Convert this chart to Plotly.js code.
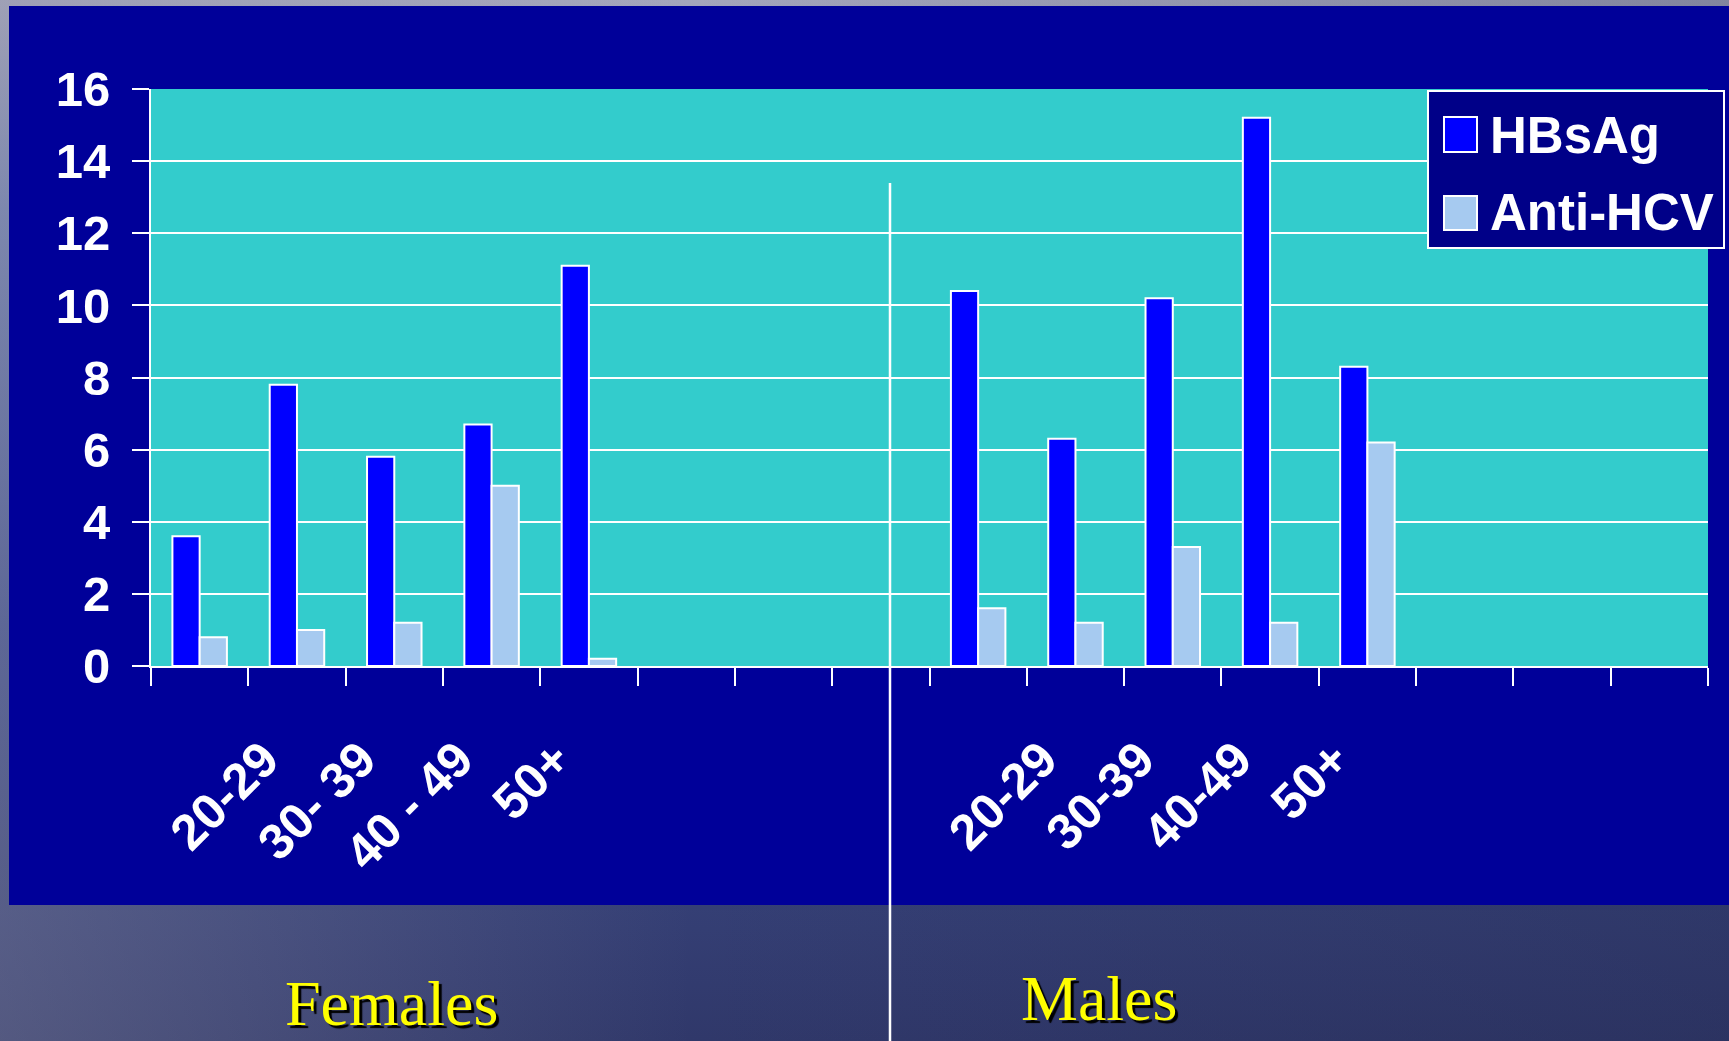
<!DOCTYPE html>
<html>
<head>
<meta charset="utf-8">
<script src="https://cdn.plot.ly/plotly-3.0.1.min.js"></script>
<style>
  html, body { margin: 0; padding: 0; width: 1729px; height: 1041px; overflow: hidden; }
  body {
    background:
      linear-gradient(to right, rgba(150,150,170,0.35) 0%, rgba(60,70,120,0.0) 40%, rgba(30,35,70,0.25) 100%),
      linear-gradient(to bottom, #a4a6bc 0%, #7080b0 20%, #3f4e8c 60%, #30386a 100%);
  }
  #chart { width: 1729px; height: 1041px; }
</style>
</head>
<body>
<div id="chart"></div>
<script>
// ---- data ----
const slotIds = ['F0','F1','F2','F3','F4','F5','F6','F7','M0','M1','M2','M3','M4','M5','M6','M7'];
const slotLabels = ['', '20-29', '30- 39', '40 - 49', '50+', '', '', '', '', '20-29', '30-39', '40-49', '50+', '', '', ''];
const femaleSlots = ['F0','F1','F2','F3','F4'];
const maleSlots = ['M0','M1','M2','M3','M4'];
const femalesHBsAg = [3.6, 7.8, 5.8, 6.7, 11.1];
const femalesAntiHCV = [0.8, 1.0, 1.2, 5.0, 0.2];
const malesHBsAg = [10.4, 6.3, 10.2, 15.2, 8.3];
const malesAntiHCV = [1.6, 1.2, 3.3, 1.2, 6.2];
const seriesNames = ['HBsAg', 'Anti-HCV'];
const groupNames = ['Females', 'Males'];
const yTicks = [0, 2, 4, 6, 8, 10, 12, 14, 16];

// ---- layout geometry (pixels) ----
const W = 1729, H = 1041;
const L = 151, R = 1708, T = 89, B = 666;
const px = x => (x - L) / (R - L);
const py = y => (B - y) / (B - T);

const colHB = '#0000FF';
const colHCV = '#A6CAF0';
const bold = {family: 'Liberation Sans, Arial, sans-serif', color: '#FFFFFF', weight: 700};

const xAll = femaleSlots.concat(maleSlots);
const traces = [
  {type: 'bar', name: seriesNames[0], x: xAll, y: femalesHBsAg.concat(malesHBsAg),
   marker: {color: colHB, line: {color: '#FFFFFF', width: 2}}, showlegend: false, hoverinfo: 'y'},
  {type: 'bar', name: seriesNames[1], x: xAll, y: femalesAntiHCV.concat(malesAntiHCV),
   marker: {color: colHCV, line: {color: '#FFFFFF', width: 2}}, showlegend: false, hoverinfo: 'y'}
];

const shapes = [
  // dark blue slide panel
  {type: 'rect', xref: 'paper', yref: 'paper', layer: 'below',
   x0: px(9), x1: px(1729), y0: py(905), y1: py(6), fillcolor: '#000099', line: {width: 0}},
  // teal plot area
  {type: 'rect', xref: 'paper', yref: 'paper', layer: 'below',
   x0: 0, x1: 1, y0: 0, y1: 1, fillcolor: '#33CCCC', line: {width: 0}},
  // divider line
  {type: 'line', xref: 'paper', yref: 'paper', layer: 'above',
   x0: px(890), x1: px(890), y0: py(183), y1: py(1041), line: {color: '#FFFFFF', width: 2.5}},
  // legend box
  {type: 'rect', xref: 'paper', yref: 'paper', layer: 'above',
   x0: px(1428), x1: px(1724), y0: py(248), y1: py(91), fillcolor: '#000088', line: {color: '#FFFFFF', width: 2}},
  {type: 'rect', xref: 'paper', yref: 'paper', layer: 'above',
   x0: px(1444), x1: px(1477), y0: py(152), y1: py(117), fillcolor: colHB, line: {color: '#FFFFFF', width: 2}},
  {type: 'rect', xref: 'paper', yref: 'paper', layer: 'above',
   x0: px(1444), x1: px(1477), y0: py(230), y1: py(196), fillcolor: colHCV, line: {color: '#FFFFFF', width: 2}}
];

const serif = {family: 'Liberation Serif, Times New Roman, serif', size: 64, color: '#FFFF00', shadow: '3px 3px 1px #000000'};
const annotations = [
  {xref: 'paper', yref: 'paper', x: px(1488), y: py(135), xanchor: 'left', yanchor: 'middle', showarrow: false,
   text: seriesNames[0], font: Object.assign({}, bold, {size: 51})},
  {xref: 'paper', yref: 'paper', x: px(1488), y: py(213), xanchor: 'left', yanchor: 'middle', showarrow: false,
   text: seriesNames[1], font: Object.assign({}, bold, {size: 51})},
  {xref: 'paper', yref: 'paper', x: px(391), y: py(1041), xanchor: 'center', yanchor: 'bottom', showarrow: false,
   text: groupNames[0], font: serif},
  {xref: 'paper', yref: 'paper', x: px(1099), y: py(998), xanchor: 'center', yanchor: 'middle', showarrow: false,
   text: groupNames[1], font: serif}
];

const layout = {
  width: W, height: H,
  margin: {l: L, r: W - R, t: T, b: H - B, pad: 0},
  paper_bgcolor: 'rgba(0,0,0,0)',
  plot_bgcolor: 'rgba(0,0,0,0)',
  barmode: 'group', bargap: 0.44, bargroupgap: 0,
  showlegend: false,
  xaxis: {
    type: 'category', categoryorder: 'array', categoryarray: slotIds,
    range: [-0.5, slotIds.length - 0.5],
    tickmode: 'array', tickvals: slotIds, ticktext: slotLabels,
    tickson: 'boundaries', ticks: 'outside', ticklen: 18, tickwidth: 2, tickcolor: '#FFFFFF',
    showline: true, linecolor: '#FFFFFF', linewidth: 2,
    showgrid: false, zeroline: false,
    tickangle: -45, tickfont: Object.assign({}, bold, {size: 50}),
    ticklabelstandoff: 42, ticklabelshift: -33,
    fixedrange: true
  },
  yaxis: {
    range: [0, 16], tickmode: 'array', tickvals: yTicks,
    ticks: 'outside', ticklen: 17, tickwidth: 2, tickcolor: '#FFFFFF',
    showline: true, linecolor: '#FFFFFF', linewidth: 2,
    showgrid: true, gridcolor: '#FFFFFF', gridwidth: 2,
    zeroline: false,
    tickfont: Object.assign({}, bold, {size: 49}),
    ticklabelstandoff: 12,
    fixedrange: true
  },
  shapes: shapes,
  annotations: annotations
};

Plotly.newPlot('chart', traces, layout, {displayModeBar: false, staticPlot: true});
</script>
</body>
</html>
